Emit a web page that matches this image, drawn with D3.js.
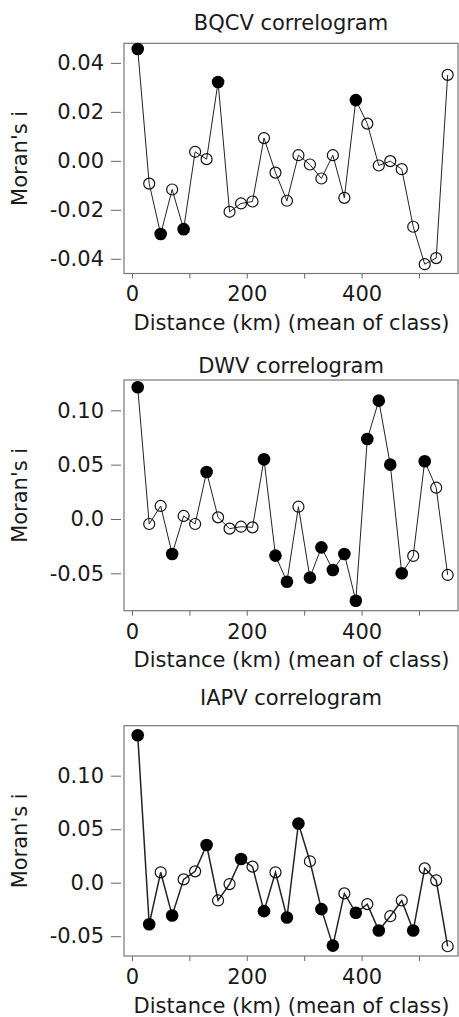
<!DOCTYPE html>
<html>
<head>
<meta charset="utf-8">
<script src="https://cdn.jsdelivr.net/npm/d3@7"></script>
<style>
  html, body { margin: 0; padding: 0; background: #fff; }
  svg { display: block; font-family: "DejaVu Sans", sans-serif; }
</style>
</head>
<body>
<div class="chart"></div>
<script>
// distance classes (mean of class, km)
const distances = [10, 30, 50, 70, 90, 110, 130, 150, 170, 190, 210, 230, 250, 270,
                   290, 310, 330, 350, 370, 390, 410, 430, 450, 470, 490, 510, 530, 550];

// Moran's i per class, 1 = significant (filled dot)
const bqcv = [0.0457, -0.0093, -0.0299, -0.0117, -0.0279, 0.0037, 0.0007, 0.0322, -0.0208, -0.0174,
              -0.0166, 0.0093, -0.0048, -0.0163, 0.0023, -0.0015, -0.0072, 0.0023, -0.0151, 0.0248,
              0.0152, -0.0019, -0.0001, -0.0034, -0.0269, -0.0422, -0.0397, 0.0351];
const bqcvSig = [1,0,1,0,1,0,0,1,0,0,0,0,0,0,0,0,0,0,0,1,0,0,0,0,0,0,0,0];

const dwv = [0.1212, -0.0046, 0.0120, -0.0322, 0.0028, -0.0046, 0.0432, 0.0015, -0.0089, -0.0071,
             -0.0077, 0.0549, -0.0337, -0.0577, 0.0113, -0.0540, -0.0261, -0.0469, -0.0322, -0.0752,
             0.0736, 0.1089, 0.0500, -0.0500, -0.0340, 0.0531, 0.0288, -0.0515];
const dwvSig = [1,0,0,1,0,0,1,0,0,0,0,1,1,1,0,1,1,1,1,1,1,1,1,1,0,1,0,0];

const iapv = [0.1378, -0.0388, 0.0097, -0.0306, 0.0031, 0.0106, 0.0352, -0.0166, -0.0013, 0.0222,
              0.0150, -0.0266, 0.0097, -0.0325, 0.0553, 0.0200, -0.0247, -0.0588, -0.0100, -0.0281,
              -0.0200, -0.0447, -0.0313, -0.0166, -0.0447, 0.0134, 0.0022, -0.0594];
const iapvSig = [1,1,0,1,0,0,1,0,0,1,0,1,0,1,1,0,1,1,0,1,0,1,0,0,1,0,0,0];

// axis ticks
const xTicks = [0, 100, 200, 300, 400, 500];
const xTickLabels = ['0', '', '200', '', '400', ''];
const bqcvTicks = [-0.04, -0.02, 0, 0.02, 0.04];
const bqcvTickLabels = ['-0.04', '-0.02', '0.00', '0.02', '0.04'];
const virusTicks = [-0.05, 0, 0.05, 0.10];
const virusTickLabels = ['-0.05', '0.0', '0.05', '0.10'];

const width = 459, height = 1017;
const left = 124, right = 458;
const fs = 21;

const panels = [
  { title: 'BQCV correlogram', values: bqcv, sig: bqcvSig, ticks: bqcvTicks, labels: bqcvTickLabels,
    yDomain: [-0.046, 0.048], top: 43.3, bottom: 273.5, titleY: 29.5, lw: 1 },
  { title: 'DWV correlogram', values: dwv, sig: dwvSig, ticks: virusTicks, labels: virusTickLabels,
    yDomain: [-0.0844, 0.1279], top: 380, bottom: 610.7, titleY: 372.5, lw: 1 },
  { title: 'IAPV correlogram', values: iapv, sig: iapvSig, ticks: virusTicks, labels: virusTickLabels,
    yDomain: [-0.0685, 0.1467], top: 725.7, bottom: 956, titleY: 705, lw: 1.5 }
];

const svg = d3.select('.chart')
  .append('svg')
    .attr('width', width)
    .attr('height', height);

const x = d3.scaleLinear().domain([-13.9, 568]).range([left, right]);

panels.forEach(p => {
  const y = d3.scaleLinear().domain(p.yDomain).range([p.bottom, p.top]);
  const g = svg.append('g');

  g.append('text')
    .attr('x', (left + right) / 2)
    .attr('y', p.titleY)
    .attr('text-anchor', 'middle')
    .attr('font-size', fs)
    .attr('fill', '#1a1a1a')
    .text(p.title);

  // y axis
  const yAxis = g.append('g')
    .attr('transform', `translate(${left - 3},0)`)
    .call(d3.axisLeft(y).tickValues(p.ticks).tickFormat((d, i) => p.labels[i]).tickSize(10).tickPadding(7));
  yAxis.select('.domain').remove();
  yAxis.selectAll('line').attr('stroke', '#666');
  yAxis.selectAll('text').attr('font-size', fs).attr('fill', '#1a1a1a')
    .attr('font-family', '"DejaVu Sans", sans-serif');

  // x axis
  const xAxis = g.append('g')
    .attr('transform', `translate(0,${p.bottom})`)
    .call(d3.axisBottom(x).tickValues(xTicks).tickFormat((d, i) => xTickLabels[i]).tickSize(5).tickPadding(8));
  xAxis.select('.domain').remove();
  xAxis.selectAll('line').attr('stroke', '#666');
  xAxis.selectAll('text').attr('font-size', fs).attr('fill', '#1a1a1a')
    .attr('font-family', '"DejaVu Sans", sans-serif');

  g.append('text')
    .attr('x', (left + right) / 2 + 0.5)
    .attr('y', p.bottom + 56.5)
    .attr('text-anchor', 'middle')
    .attr('font-size', fs)
    .attr('fill', '#1a1a1a')
    .text('Distance (km) (mean of class)');

  g.append('text')
    .attr('transform', `translate(26.5,${(p.top + p.bottom) / 2}) rotate(-90)`)
    .attr('text-anchor', 'middle')
    .attr('font-size', fs)
    .attr('fill', '#1a1a1a')
    .text("Moran's i");

  // plot box
  g.append('rect')
    .attr('x', left)
    .attr('y', p.top)
    .attr('width', right - left)
    .attr('height', p.bottom - p.top)
    .attr('fill', 'none')
    .attr('stroke', '#777')
    .attr('stroke-width', 1.2);

  const pts = distances.map((d, i) => ({ d: d, v: p.values[i], s: p.sig[i] }));

  g.append('path')
    .datum(pts)
    .attr('fill', 'none')
    .attr('stroke', '#222')
    .attr('stroke-width', p.lw)
    .attr('d', d3.line().x(d => x(d.d)).y(d => y(d.v)));

  g.selectAll('.pt')
    .data(pts)
    .enter().append('circle')
      .attr('class', 'pt')
      .attr('cx', d => x(d.d))
      .attr('cy', d => y(d.v))
      .attr('r', d => d.s ? 6.3 : 5.5)
      .attr('fill', d => d.s ? '#000' : 'none')
      .attr('stroke', '#111')
      .attr('stroke-width', d => d.s ? 0 : 1.2);
});
</script>
</body>
</html>
